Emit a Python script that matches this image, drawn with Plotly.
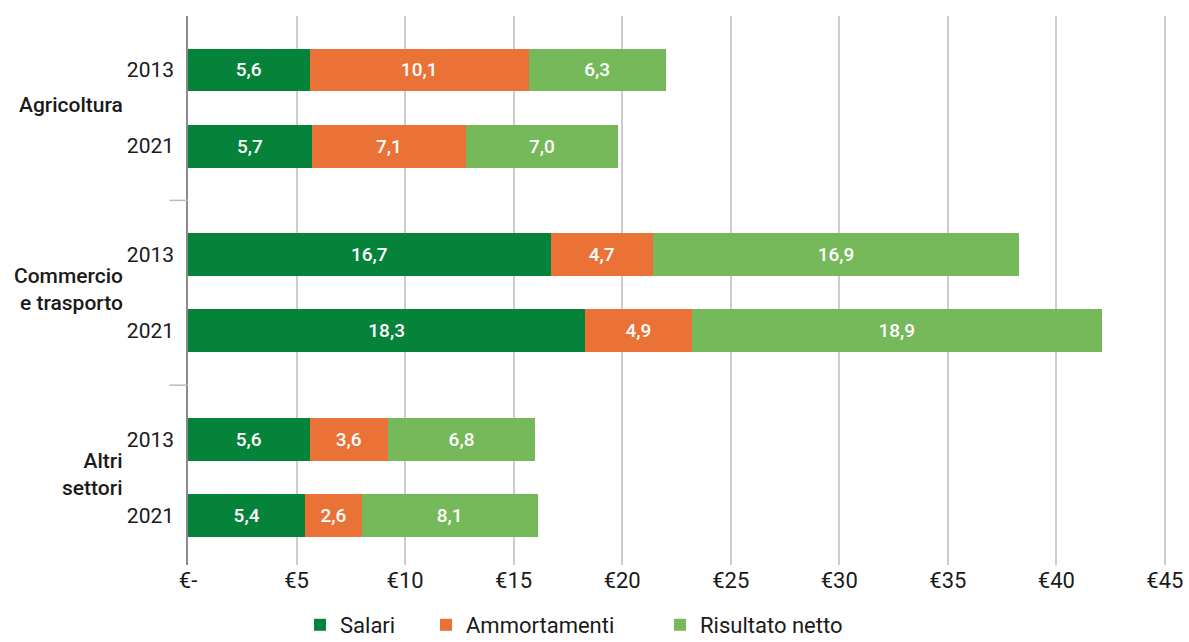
import plotly.graph_objects as go

sectors = ["Agricoltura", "Commercio<br>e trasporto", "Altri<br>settori"]
years = ["2013", "2021"]
salari = [5.6, 5.7, 16.7, 18.3, 5.6, 5.4]
ammortamenti = [10.1, 7.1, 4.7, 4.9, 3.6, 2.6]
risultato = [6.3, 7.0, 16.9, 18.9, 6.8, 8.1]
x_ticks = [0, 5, 10, 15, 20, 25, 30, 35, 40, 45]
x_ticktext = ["€-", "€5", "€10", "€15", "€20", "€25", "€30", "€35", "€40", "€45"]

series_names = ["Salari", "Ammortamenti", "Risultato netto"]
series_vals = [salari, ammortamenti, risultato]
series_colors = ["#05833A", "#EB7236", "#75B95B"]
legend_ids = ["legend", "legend2", "legend3"]
legend_x_px = [300, 426, 660]

GROUP_GAP = 0.43
n_years = len(years)
pos = []
ylab = []
for g in range(len(sectors)):
    for i, yr in enumerate(years):
        pos.append(g * (n_years + GROUP_GAP) + i)
        ylab.append(yr)

FONT = "Roboto"
TXT = "#1a1a1a"
fig = go.Figure()
for name, vals, col, lg in zip(series_names, series_vals, series_colors, legend_ids):
    fig.add_trace(go.Bar(
        y=pos, x=vals, name=name, orientation="h", legend=lg,
        marker=dict(color=col, line=dict(width=0)),
        texttemplate="%{x:.1f}", textposition="inside", insidetextanchor="middle",
        textangle=0, constraintext="none",
        textfont=dict(color="white", size=19, family=FONT, weight=500),
        hoverinfo="skip",
    ))

annotations = []
shapes = []
for g, s in enumerate(sectors):
    center = g * (n_years + GROUP_GAP) + (n_years - 1) / 2
    annotations.append(dict(
        text=s, x=-0.064, xref="paper", y=center, yref="y", yshift=3,
        xanchor="right", yanchor="middle", align="right", showarrow=False,
        font=dict(size=21, family=FONT, color=TXT, weight=500),
    ))
    if g > 0:
        div = g * (n_years + GROUP_GAP) - 0.5 - GROUP_GAP / 2
        shapes.append(dict(type="line", xref="paper", yref="y", x0=-0.019, x1=0,
                           y0=div, y1=div, line=dict(color="#bbbbbb", width=1.5)))

legend_common = dict(orientation="h", y=(642 - 625) / 642, yref="container",
                     yanchor="middle", xref="container", xanchor="left",
                     font=dict(size=22, family=FONT, color=TXT),
                     bgcolor="rgba(0,0,0,0)")
legends = {}
for lg, xp in zip(legend_ids, legend_x_px):
    legends[lg] = dict(legend_common, x=xp / 1189)

fig.update_layout(
    width=1189, height=642,
    margin=dict(l=188, r=23, t=16, b=77, autoexpand=False),
    barmode="stack", bargap=0.435,
    separators=",.",
    plot_bgcolor="white", paper_bgcolor="white",
    font=dict(family=FONT, size=20, color=TXT),
    xaxis=dict(range=[0, 45.05], tickvals=x_ticks, ticktext=x_ticktext,
               showgrid=True, gridcolor="#cccccc", gridwidth=1.5,
               zeroline=False, showline=False, ticks="",
               tickfont=dict(size=22, family=FONT, color=TXT)),
    yaxis=dict(tickvals=pos, ticktext=ylab, range=[6.51, -0.71],
               showgrid=False, zeroline=False, showline=True,
               linecolor="#8a8a8a", linewidth=1.5, ticks="",
               ticklabelstandoff=8,
               tickfont=dict(size=21, family=FONT, color=TXT)),
    annotations=annotations, shapes=shapes,
    showlegend=True,
    **legends,
)

fig.write_html("out.html")
